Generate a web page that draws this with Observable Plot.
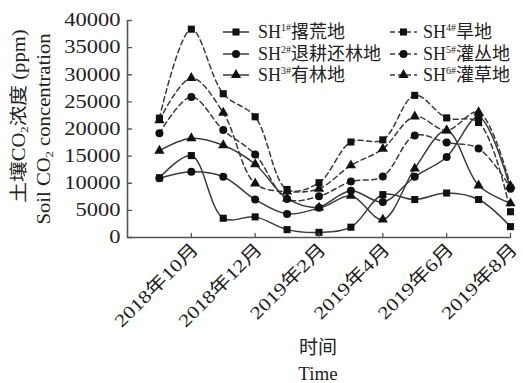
<!DOCTYPE html>
<html><head><meta charset="utf-8">
<script src="https://cdn.jsdelivr.net/npm/d3@7"></script>
<script src="https://cdn.jsdelivr.net/npm/@observablehq/plot@0.6"></script>
<style>
body{margin:0;background:#fff}
svg{font-family:"Liberation Serif","Noto Sans CJK SC",serif}
</style>
</head><body><div id="chart"></div>
<script>
// Data (month-start sampling, Sep 2018 – Aug 2019)
const months = ["2018-09","2018-10","2018-11","2018-12","2019-01","2019-02","2019-03","2019-04","2019-05","2019-06","2019-07","2019-08"];
const sh1 = [11000, 15100, 3550, 3800, 1450, 950, 1900, 7900, 7000, 8200, 7000, 2000];
const sh2 = [10900, 12100, 11200, 7000, 4350, 5500, 8600, 6550, 11200, 14850, 22200, 9000];
const sh3 = [16000, 18300, 17000, 13500, 7200, 5500, 7700, 3300, 12700, 19700, 9600, 6300];
const sh4 = [22000, 38400, 26500, 22250, 8850, 10100, 17600, 18000, 26200, 22050, 21200, 4750];
const sh5 = [19200, 25900, 19800, 15300, 7100, 7600, 10300, 11250, 18800, 17500, 16400, 9200];
const sh6 = [21600, 29400, 23000, 9950, 8450, 9000, 13300, 16350, 22300, 19750, 23100, 9500];
const seriesNames = ["SH1","SH2","SH3","SH4","SH5","SH6"];
const legendSup = ["1#","2#","3#","4#","5#","6#"];
const legendNames = ["撂荒地","退耕还林地","有林地","旱地","灌丛地","灌草地"];
const yTicks = [0,5000,10000,15000,20000,25000,30000,35000,40000];
const xTickMonths = ["2018-10","2018-12","2019-02","2019-04","2019-06","2019-08"];
const xTickLabels = ["2018年10月","2018年12月","2019年2月","2019年4月","2019年6月","2019年8月"];

const values = [sh1, sh2, sh3, sh4, sh5, sh6];
const symbols = ["square","circle","triangle","square","circle","triangle"];
const dashed = [false,false,false,true,true,true];
const monthIdx = m => months.indexOf(m) + 1;   // 0 = Aug 2018 (axis origin)
const rows = values.flatMap((vals, s) => vals.map((v, i) => ({series: seriesNames[s], s, x: i + 1, y: v})));
const xTicks = xTickMonths.map(monthIdx);

const lineColor = "#3a3a3a";
const axisColor = "#555";
const tickShape = {draw(ctx, l) { ctx.moveTo(0, 0); ctx.lineTo(0, -l); }};

const marks = [];
values.forEach((vals, s) => {
  const d = rows.filter(r => r.s === s);
  marks.push(Plot.line(d, {x: "x", y: "y", curve: "catmull-rom", stroke: lineColor, strokeWidth: 1.5,
    strokeDasharray: dashed[s] ? "5,3.5" : null}));
});
values.forEach((vals, s) => {
  const d = rows.filter(r => r.s === s);
  marks.push(Plot.dot(d, {x: "x", y: "y", symbol: () => symbols[s], r: symbols[s] === "triangle" ? 3.8 : 4, fill: "#111", stroke: "none"}));
});

const chart = Plot.plot({
  width: 523, height: 383,
  marginLeft: 127, marginRight: 13, marginTop: 20, marginBottom: 146,
  x: {type: "linear", domain: [0, 12], axis: null},
  y: {domain: [0, 40000], axis: null},
  symbol: {type: "identity"},
  marks: [
    ...marks,
    Plot.ruleX([0], {stroke: axisColor, strokeWidth: 1.6}),
    Plot.ruleY([0], {stroke: axisColor, strokeWidth: 1.6}),
    Plot.vector(yTicks, {x: 0, y: d => d, rotate: 90, length: 4, anchor: "start", shape: tickShape, stroke: axisColor, strokeWidth: 1.3}),
    Plot.vector(xTicks, {x: d => d, y: 0, rotate: 0, length: 4, anchor: "start", shape: tickShape, stroke: axisColor, strokeWidth: 1.3}),
    Plot.axisY(yTicks, {anchor: "left", label: null, tickSize: 0, tickPadding: 7, fontSize: 18, tickFormat: d => String(d), fill: "#222"}),
    Plot.axisX(xTicks, {anchor: "bottom", label: null, tickSize: 0, tickPadding: 6, tickRotate: -45, fontSize: 18, dx: 4, dy: 3,
      tickFormat: d => xTickLabels[xTicks.indexOf(d)], fill: "#222"})
  ]
});

const svg = d3.select(chart);
svg.attr("font-family", '"Liberation Serif","Noto Sans CJK SC",serif');

// Stretch tick labels horizontally along their baseline to match the reference's wide serif face
svg.selectAll('[aria-label="y-axis tick label"] text').attr("transform", function() { return (this.getAttribute("transform") || "") + " scale(1.25,1)"; });
svg.selectAll('[aria-label="x-axis tick label"] text').attr("transform", function() { return (this.getAttribute("transform") || "") + " scale(1.22,1)"; });

// Legend
const legendCols = [{lx0: 223, lx1: 249, tx: 258}, {lx0: 390, lx1: 417, tx: 423}];
const legendRows = [32, 54, 75];
const lg = svg.append("g").attr("fill", "#222").attr("text-anchor", "start");
seriesNames.forEach((n, s) => {
  const c = legendCols[Math.floor(s / 3)], yy = legendRows[s % 3];
  lg.append("line").attr("x1", c.lx0).attr("x2", c.lx1).attr("y1", yy).attr("y2", yy)
    .attr("stroke", lineColor).attr("stroke-width", 1.5).attr("stroke-dasharray", dashed[s] ? "5,3" : null);
  const symType = symbols[s] === "square" ? d3.symbolSquare : symbols[s] === "circle" ? d3.symbolCircle : d3.symbolTriangle;
  const r = symbols[s] === "triangle" ? 3.8 : 4;
  lg.append("path").attr("d", d3.symbol(symType, Math.PI * r * r)()).attr("transform", `translate(${(c.lx0 + c.lx1) / 2},${yy})`).attr("fill", "#111");
  const t = lg.append("text").attr("x", c.tx).attr("y", yy).attr("dy", "0.35em").attr("font-size", 18);
  t.append("tspan").text("SH");
  t.append("tspan").attr("font-size", 10).attr("dy", "-0.75em").text(legendSup[s]);
  t.append("tspan").attr("dy", "0.42em").text(legendNames[s]);
});

// Axis titles
const yt = svg.append("g").attr("fill", "#222").attr("font-size", 18).attr("text-anchor", "middle");
function sub(t, pre, mid, post) {
  t.append("tspan").text(pre);
  t.append("tspan").attr("font-size", 11).attr("dy", "0.3em").text(mid);
  t.append("tspan").attr("dy", "-0.2em").text(post);
}
const y1 = yt.append("text").attr("transform", "translate(25,116) rotate(-90) scale(1.15,1)");
sub(y1, "土壤CO", "2", "浓度 (ppm)");
const y2 = yt.append("text").attr("transform", "translate(50,129) rotate(-90) scale(1.15,1)");
sub(y2, "Soil CO", "2", " concentration");
svg.append("text").attr("x", 318).attr("y", 354).attr("text-anchor", "middle").attr("font-size", 19).attr("fill", "#222").text("时间");
svg.append("text").attr("x", 318).attr("y", 380).attr("text-anchor", "middle").attr("font-size", 19).attr("fill", "#222").text("Time");

document.getElementById("chart").appendChild(chart);
</script>
</body></html>
